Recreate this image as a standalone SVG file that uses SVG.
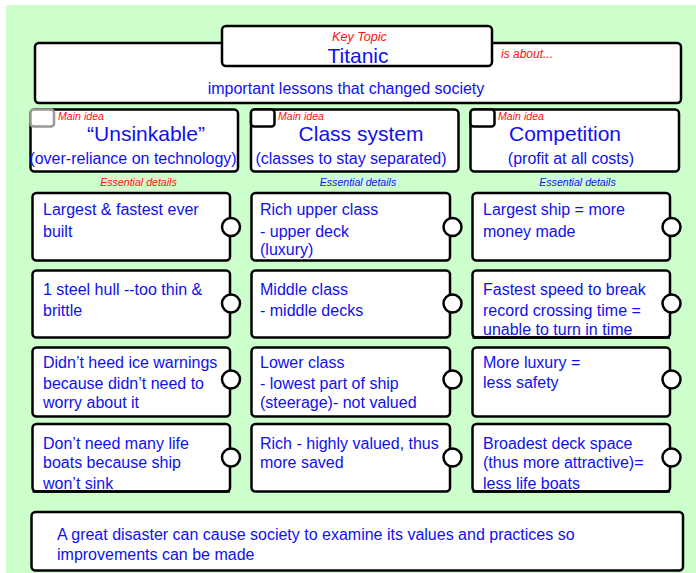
<svg xmlns="http://www.w3.org/2000/svg" width="696" height="573" viewBox="0 0 696 573">
<style>
.box{fill:#fff;stroke:#000;stroke-width:2.5}
.knob{fill:#fff;stroke:#000;stroke-width:2.5}
.t{font-family:"Liberation Sans",Arial,sans-serif;fill:#1010f0}
.d{font-size:16px}
.lbl{font-family:"Liberation Sans",Arial,sans-serif;font-style:italic;font-size:10.6px}
.red{fill:#ff1010}
.blue{fill:#1010f0}
</style>
<rect x="0" y="0" width="696" height="573" fill="#fff"/>
<rect x="6" y="5" width="690" height="568" fill="#ccffcc"/>
<g id="connectors"/>
<g id="topic">
<rect class="box" x="35" y="43" width="646" height="60" rx="4"/>
<rect class="box" x="222" y="26" width="270" height="40" rx="4"/>
<text class="lbl red" x="359.5" y="40.7" text-anchor="middle" style="font-size:12.6px">Key Topic</text>
<text class="t" x="358" y="63.3" text-anchor="middle" font-size="21">Titanic</text>
<text class="lbl red" x="501" y="57.7" style="font-size:12px">is about...</text>
<text class="t d" x="346" y="94" text-anchor="middle">important lessons that changed society</text>
</g>
<g id="main1">
<rect class="box" x="30.5" y="109.5" width="207.5" height="62" rx="4"/>
<rect x="30.5" y="109.5" width="23.5" height="17" rx="3" fill="#fff" stroke="#999" stroke-width="2.5"/>
<text class="lbl red" x="58" y="119.5">Main idea</text>
<text class="t" x="146" y="141" text-anchor="middle" font-size="21">“Unsinkable”</text>
<text class="t d" x="133" y="164" text-anchor="middle">(over-reliance on technology)</text>
</g>
<g id="main2">
<rect class="box" x="251" y="109.5" width="207.5" height="62" rx="4"/>
<rect x="251" y="109.5" width="23.5" height="17" rx="3" fill="#fff" stroke="#000" stroke-width="2.5"/>
<text class="lbl red" x="278" y="119.5">Main idea</text>
<text class="t" x="361" y="141" text-anchor="middle" font-size="21">Class system</text>
<text class="t d" x="351" y="164" text-anchor="middle">(classes to stay separated)</text>
</g>
<g id="main3">
<rect class="box" x="470.5" y="109.5" width="208.5" height="62" rx="4"/>
<rect x="470.5" y="109.5" width="24" height="17" rx="3" fill="#fff" stroke="#000" stroke-width="2.5"/>
<text class="lbl red" x="498" y="119.5">Main idea</text>
<text class="t" x="565" y="141" text-anchor="middle" font-size="21">Competition</text>
<text class="t d" x="571" y="164" text-anchor="middle">(profit at all costs)</text>
</g>
<g id="labels">
<text class="lbl red" x="138.5" y="185.7" text-anchor="middle">Essential details</text>
<text class="lbl blue" x="358" y="185.7" text-anchor="middle">Essential details</text>
<text class="lbl blue" x="577.5" y="185.7" text-anchor="middle">Essential details</text>
</g>
<g id="d11"><rect class="box" x="32.5" y="193" width="197.5" height="67.5" rx="4"/><circle class="knob" cx="231" cy="227" r="9"/>
<text class="t d"><tspan x="43" y="215">Largest &amp; fastest ever</tspan><tspan x="43" y="237">built</tspan></text></g>
<g id="d21"><rect class="box" x="32.5" y="270.5" width="197.5" height="67" rx="4"/><circle class="knob" cx="231" cy="303.5" r="9"/>
<text class="t d"><tspan x="43" y="295">1 steel hull --too thin &amp;</tspan><tspan x="43" y="315.5">brittle</tspan></text></g>
<g id="d31"><rect class="box" x="32.5" y="347.5" width="197.5" height="69" rx="4"/><circle class="knob" cx="231" cy="379.5" r="9"/>
<text class="t d"><tspan x="43" y="367.5">Didn’t heed ice warnings</tspan><tspan x="43" y="388.5">because didn’t need to</tspan><tspan x="43" y="407.5">worry about it</tspan></text></g>
<g id="d41"><rect class="box" x="32.5" y="424" width="197.5" height="67.5" rx="4"/>
<text class="t d"><tspan x="43" y="448.5">Don’t need many life</tspan><tspan x="43" y="467.5">boats because ship</tspan><tspan x="43" y="488.5">won’t sink</tspan></text>
<line x1="32.5" y1="491.5" x2="230" y2="491.5" stroke="#000" stroke-width="2.5"/><circle class="knob" cx="231" cy="457.5" r="9"/></g>
<g id="d12"><rect class="box" x="251.5" y="193" width="198.5" height="67.5" rx="4"/><circle class="knob" cx="452.5" cy="227" r="9"/>
<text class="t d"><tspan x="260" y="215">Rich upper class</tspan><tspan x="260" y="237">- upper deck</tspan><tspan x="260" y="255">(luxury)</tspan></text></g>
<g id="d22"><rect class="box" x="251.5" y="270.5" width="198.5" height="67" rx="4"/><circle class="knob" cx="452.5" cy="303.5" r="9"/>
<text class="t d"><tspan x="260" y="295">Middle class</tspan><tspan x="260" y="315.5">- middle decks</tspan></text></g>
<g id="d32"><rect class="box" x="251.5" y="347.5" width="198.5" height="69" rx="4"/><circle class="knob" cx="452.5" cy="379.5" r="9"/>
<text class="t d"><tspan x="260" y="367.5">Lower class</tspan><tspan x="260" y="388.5">- lowest part of ship</tspan><tspan x="260" y="407.5">(steerage)- not valued</tspan></text></g>
<g id="d42"><rect class="box" x="251.5" y="424" width="198.5" height="67.5" rx="4"/><circle class="knob" cx="452.5" cy="457.5" r="9"/>
<text class="t d"><tspan x="260" y="448.5">Rich - highly valued, thus</tspan><tspan x="260" y="467.5">more saved</tspan></text></g>
<g id="d13"><rect class="box" x="472.5" y="193" width="197.5" height="67.5" rx="4"/><circle class="knob" cx="671.5" cy="227" r="9"/>
<text class="t d"><tspan x="483" y="215">Largest ship = more</tspan><tspan x="483" y="237">money made</tspan></text></g>
<g id="d23"><rect class="box" x="472.5" y="270.5" width="197.5" height="67" rx="4"/>
<text class="t d"><tspan x="483" y="294.5">Fastest speed to break</tspan><tspan x="483" y="315.5">record crossing time =</tspan><tspan x="483" y="334.5">unable to turn in time</tspan></text>
<line x1="472.5" y1="337.5" x2="670" y2="337.5" stroke="#000" stroke-width="2.5"/><circle class="knob" cx="671.5" cy="303.5" r="9"/></g>
<g id="d33"><rect class="box" x="472.5" y="347.5" width="197.5" height="69" rx="4"/><circle class="knob" cx="671.5" cy="379.5" r="9"/>
<text class="t d"><tspan x="483" y="367.5">More luxury =</tspan><tspan x="483" y="388">less safety</tspan></text></g>
<g id="d43"><rect class="box" x="472.5" y="424" width="197.5" height="67.5" rx="4"/>
<text class="t d"><tspan x="483" y="448.5">Broadest deck space</tspan><tspan x="483" y="467.5">(thus more attractive)=</tspan><tspan x="483" y="488.5">less life boats</tspan></text>
<line x1="472.5" y1="491.5" x2="670" y2="491.5" stroke="#000" stroke-width="2.5"/><circle class="knob" cx="671.5" cy="457.5" r="9"/></g>
<g id="conclusion"><rect class="box" x="31.5" y="512" width="651.5" height="58.5" rx="4"/>
<text class="t" font-size="16"><tspan x="57" y="540">A great disaster can cause society to examine its values and practices so</tspan><tspan x="57" y="560">improvements can be made</tspan></text></g>
</svg>
